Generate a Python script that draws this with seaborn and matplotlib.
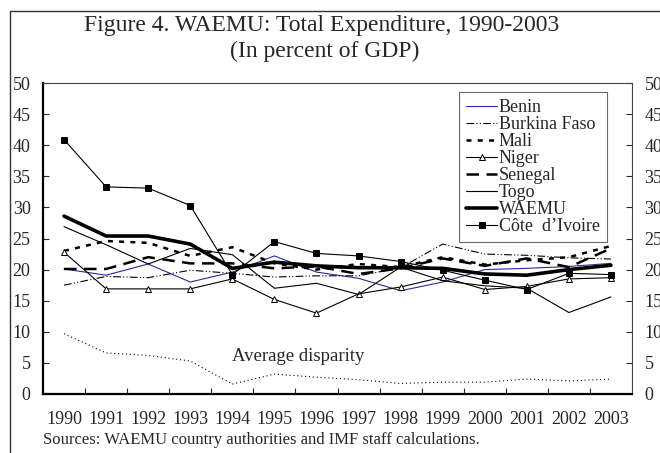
import numpy as np
import pandas as pd
import matplotlib
matplotlib.use("Agg")
import matplotlib.pyplot as plt
import seaborn as sns
from matplotlib.lines import Line2D

# values (percent of GDP)
years = list(range(1990, 2004))
benin = [20.1, 19.1, 20.9, 18.0, 19.6, 22.2, 19.6, 18.6, 16.6, 18.0, 20.0, 20.2, 20.5, 21.0]
burkina = [17.5, 18.9, 18.7, 19.9, 19.4, 18.8, 19.0, 19.0, 20.3, 24.1, 22.5, 22.3, 21.9, 21.7]
mali = [23.0, 24.6, 24.3, 22.2, 23.6, 21.0, 20.0, 20.9, 20.4, 22.0, 20.8, 21.5, 22.0, 23.8]
niger = [22.8, 16.9, 16.9, 16.9, 18.5, 15.2, 13.0, 16.1, 17.2, 18.8, 16.8, 17.3, 18.5, 18.7]
senegal = [20.1, 20.1, 22.0, 21.0, 21.0, 20.2, 20.5, 19.3, 20.2, 21.8, 20.6, 21.8, 20.4, 23.4]
togo = [26.9, 24.0, 20.9, 23.4, 22.4, 17.0, 17.8, 16.0, 20.4, 18.2, 17.4, 17.0, 13.1, 15.6]
waemu = [28.6, 25.4, 25.4, 24.1, 20.2, 21.2, 20.6, 20.3, 20.3, 20.2, 19.3, 19.1, 20.0, 20.7]
cote = [40.9, 33.3, 33.1, 30.3, 19.2, 24.5, 22.6, 22.2, 21.3, 19.9, 18.3, 16.8, 19.4, 19.2]
disparity = [9.7, 6.6, 6.2, 5.3, 1.6, 3.2, 2.7, 2.3, 1.7, 1.9, 1.9, 2.4, 2.1, 2.4]

sns.set_style("white")
plt.rcParams['font.family'] = ['Liberation Serif', 'DejaVu Serif']

fig = plt.figure(figsize=(6.6, 4.53), dpi=100)
ax = fig.add_axes([43/660, 1 - 394/453, (632 - 43)/660, (394 - 83)/453])

# name, values, color, lw, dashes, marker, mfc
series = [
    ("Benin", benin, "#2b2b9e", 0.8, None, None, None),
    ("Burkina Faso", burkina, "black", 0.8, (7, 2, 1, 2, 1, 2), None, None),
    ("Mali", mali, "black", 1.8, (2, 2.5), None, None),
    ("Niger", niger, "black", 0.8, None, "^", "white"),
    ("Senegal", senegal, "black", 1.8, (5, 3), None, None),
    ("Togo", togo, "black", 0.8, None, None, None),
    ("WAEMU", waemu, "black", 2.6, None, None, None),
    ("C\u00f4te  d\u2019Ivoire", cote, "black", 0.8, None, "s", "black"),
]

for name, vals, col, lw, dsh, mk, mfc in series:
    kw = {}
    if mk is not None:
        kw = dict(marker=mk, markersize=5 if mk == "^" else 4, markerfacecolor=mfc,
                  markeredgecolor="black", markeredgewidth=0.7)
    sns.lineplot(x=years, y=vals, ax=ax, color=col, linewidth=lw, label=name, **kw)
    if dsh is not None:
        ax.lines[-1].set_dashes(dsh)

sns.lineplot(x=years, y=disparity, ax=ax, color="black", linewidth=0.8)
ax.lines[-1].set_dashes((1, 2.5))
ax.text(1995.57, 5.95, "Average disparity", ha="center", va="center", fontsize=13.5)

ax.set_xlim(1989.5, 2003.5)
ax.set_ylim(0, 50)
ax.set_yticks(range(0, 51, 5))
ax.set_xticks(years)
ax.set_xticks(np.arange(1990.5, 2003, 1), minor=True)
ax.tick_params(axis="x", which="major", length=0, pad=12.5, labelsize=13)
ax.tick_params(axis="x", which="minor", direction="in", length=4, width=0.8, bottom=True)
ax.tick_params(axis="y", direction="in", length=4, width=0.8, left=True, right=True,
               labelright=True, labelsize=13, pad=9)
ax.set_xlabel("")
ax.set_ylabel("")

for s in ["left", "bottom"]:
    ax.spines[s].set_linewidth(1.6)
    ax.spines[s].set_color("black")
for s in ["top", "right"]:
    ax.spines[s].set_linewidth(0.8)
    ax.spines[s].set_color("#444444")

leg = ax.legend(loc="upper right", bbox_to_anchor=(0.9576, 0.971), fontsize=13,
                frameon=True, fancybox=False, edgecolor="#444444", handlelength=1.7,
                handletextpad=0.1, labelspacing=0.0, borderpad=0.4, borderaxespad=0)
leg.get_frame().set_linewidth(0.8)

fig.text(322/660, 1 - 25/453, "Figure 4. WAEMU: Total Expenditure, 1990-2003",
         ha="center", va="center", fontsize=17)
fig.text(325/660, 1 - 51/453, "(In percent of GDP)", ha="center", va="center", fontsize=17)
fig.text(43/660, 1 - 440/453, "Sources: WAEMU country authorities and IMF staff calculations.",
         ha="left", va="center", fontsize=12)

# outer frame lines (left and top)
fig.add_artist(Line2D([10/660, 10/660], [0, 1 - 11/453], color="#333333", linewidth=1.0))
fig.add_artist(Line2D([10/660, 1], [1 - 11/453, 1 - 11/453], color="#333333", linewidth=1.0))

fig.savefig("out.png", dpi=100)
